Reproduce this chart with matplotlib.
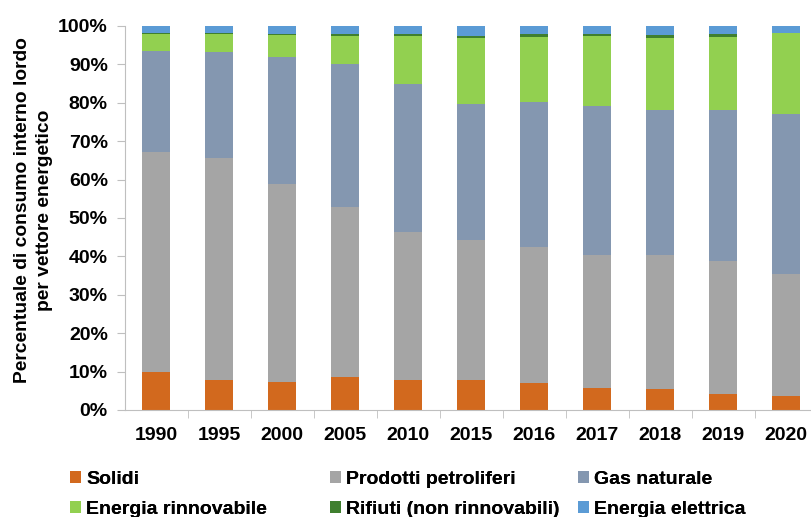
import matplotlib
matplotlib.use("Agg")
import matplotlib.pyplot as plt
import numpy as np
from matplotlib.ticker import FixedLocator, PercentFormatter

plt.rcParams['font.family'] = ['Liberation Sans', 'DejaVu Sans']
plt.rcParams['font.weight'] = 'bold'

# anni
years = ["1990", "1995", "2000", "2005", "2010", "2015", "2016", "2017", "2018", "2019", "2020"]

# quote percentuali per vettore energetico
solidi = [9.8, 7.7, 7.2, 8.7, 7.7, 7.8, 7.1, 5.8, 5.4, 4.1, 3.6]
petroliferi = [57.5, 57.8, 51.6, 44.1, 38.7, 36.5, 35.4, 34.6, 34.9, 34.8, 31.9]
gas = [26.3, 27.6, 33.0, 37.3, 38.5, 35.5, 37.8, 38.8, 37.9, 39.3, 41.7]
rinnovabile = [4.4, 4.9, 5.9, 7.3, 12.5, 17.0, 16.9, 18.1, 18.8, 19.0, 20.9]
rifiuti = [0.1, 0.1, 0.3, 0.4, 0.5, 0.7, 0.8, 0.5, 0.7, 0.6, 0.0]
elettrica = [1.9, 1.9, 2.0, 2.2, 2.1, 2.5, 2.0, 2.1, 2.3, 2.2, 2.0]

labels = ["Solidi", "Prodotti petroliferi", "Gas naturale",
          "Energia rinnovabile", "Rifiuti (non rinnovabili)", "Energia elettrica"]
colors = ["#D2691E", "#A5A5A5", "#8497B0", "#92D050", "#3F7F2F", "#5B9BD5"]
series = [solidi, petroliferi, gas, rinnovabile, rifiuti, elettrica]

fig = plt.figure(figsize=(8.11, 5.17), dpi=100)
ax = fig.add_axes([124.5 / 811, 107 / 517, 693 / 811, 384 / 517])

x = np.arange(len(years))
bottom = np.zeros(len(years))
handles = []
for vals, lab, col in zip(series, labels, colors):
    b = ax.bar(x, vals, 0.44, bottom=bottom, color=col, label=lab, linewidth=0)
    handles.append(b)
    bottom += np.array(vals)

ax.set_xlim(-0.5, len(years) - 0.5)
ax.set_ylim(0, 100)
ax.set_yticks(np.arange(0, 101, 10))
ax.yaxis.set_major_formatter(PercentFormatter(decimals=0))
ax.set_xticks(x)
ax.set_xticklabels(years)
ax.xaxis.set_minor_locator(FixedLocator(np.arange(0.5, len(years) - 0.5, 1)))

for s in ["top", "right"]:
    ax.spines[s].set_visible(False)
for s in ["left", "bottom"]:
    ax.spines[s].set_color("#BFBFBF")

ax.tick_params(axis="y", length=6, color="#BFBFBF", pad=6, labelsize=14)
ax.tick_params(axis="x", which="major", length=0, pad=12.5, labelsize=14)
ax.tick_params(axis="x", which="minor", length=6, color="#BFBFBF")
for t in ax.get_xticklabels() + ax.get_yticklabels():
    t.set_fontweight("bold")

fig.text(33.5 / 811, 1 - 210 / 517,
         "Percentuale di consumo interno lordo\nper vettore energetico",
         rotation=90, ha="center", va="center", multialignment="center",
         fontsize=13.9, fontweight="bold", linespacing=1.4)

# legenda in tre colonne
col_x = [70, 330, 578]
for i, cx in enumerate(col_x):
    leg = fig.legend([handles[i], handles[i + 3]], [labels[i], labels[i + 3]],
                     loc="upper left", bbox_to_anchor=(cx / 811, 1 - 471 / 517),
                     frameon=False, borderpad=0, borderaxespad=0,
                     handlelength=0.57, handleheight=0.57, handletextpad=0.25,
                     labelspacing=0.65, prop={"size": 14, "weight": "bold"})
    fig.add_artist(leg)

fig.savefig("out.png", dpi=100)
